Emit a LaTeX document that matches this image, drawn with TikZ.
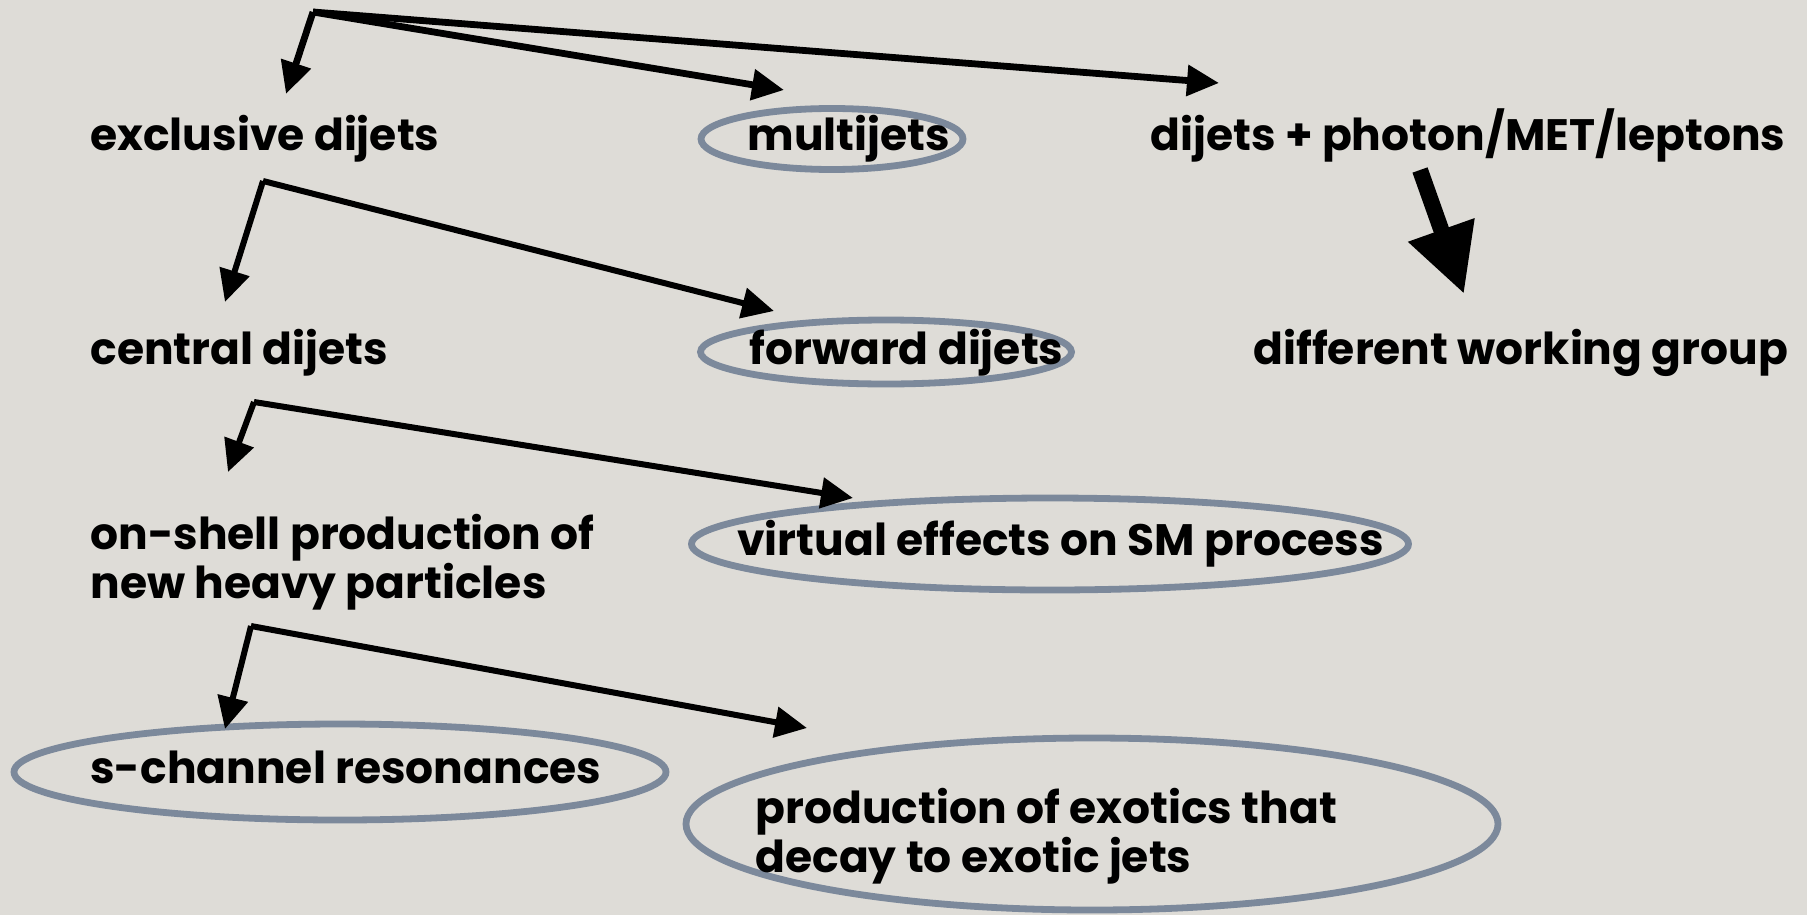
\documentclass[tikz,border=0pt]{standalone}
\usepackage{fontspec}
\setmainfont{Poppins}
\usetikzlibrary{arrows.meta,shapes.geometric}
\definecolor{paper}{RGB}{222,220,215}
\definecolor{ring}{RGB}{124,137,155}
\begin{document}
\begin{tikzpicture}[x=0.5pt,y=-0.5pt,
  txt/.style={font=\fontsize{22}{21.5}\selectfont\bfseries, inner sep=0pt, anchor=base west},
  txtblock/.style={font=\fontsize{22}{21.5}\selectfont\bfseries, inner sep=0pt, anchor=west, align=left},
  oval/.style={draw=ring, line width=3.4pt, ellipse, inner sep=0pt},
  link/.style={line width=3pt, -{Triangle[length=16pt,width=15pt]}},
  toplink/.style={line width=3.4pt, -{Triangle[length=16pt,width=15pt]}},
  bigarrow/.style={line width=8pt, -{Triangle[length=34pt,width=33pt]}},
]
\fill[paper] (0,0) rectangle (1807,915);
\useasboundingbox (0,0) rectangle (1807,915);

% category outlines
\node[oval, minimum width=131pt, minimum height=30.5pt] (om) at (832,139) {};
\node[oval, minimum width=185.5pt, minimum height=32pt] (of) at (886,352) {};
\node[oval, minimum width=358.5pt, minimum height=46pt] (ov) at (1050,544) {};
\node[oval, minimum width=326pt, minimum height=48pt] (os) at (340,772) {};
\node[oval, minimum width=406pt, minimum height=86pt] (op) at (1092,824) {};

% labels
\node[txt] (excl) at (90,150) {exclusive dijets};
\node[txt] (multi) at (747,150) {multijets};
\node[txt] (phot) at (1150,150) {dijets + photon/MET/leptons};
\node[txt] (cent) at (90,364) {central dijets};
\node[txt] (fwd) at (749,364) {forward dijets};
\node[txt] (wg) at (1253,364) {different working group};
\node[txtblock] (onshell) at (90,562) {on-shell production of\\new heavy particles};
\node[txt] (virt) at (737,555) {virtual effects on SM process};
\node[txt] (schan) at (90,783) {s-channel resonances};
\node[txtblock] (prod) at (755,836) {production of exotics that\\decay to exotic jets};

% branch points and arrow ends
\coordinate (root) at (313,12);
\coordinate (exclIn) at (286,94);
\coordinate (multiIn) at (784,90);
\coordinate (photIn) at (1219,83);
\coordinate (b1) at (263,181);
\coordinate (centIn) at (225,302);
\coordinate (fwdIn) at (774,311);
\coordinate (b2) at (254,402);
\coordinate (onIn) at (228,472);
\coordinate (virtIn) at (853,498);
\coordinate (b3) at (251,626);
\coordinate (schanIn) at (225,729);
\coordinate (prodIn) at (807,728);
\coordinate (photOut) at (1420,170);
\coordinate (wgIn) at (1464,294);

\draw[toplink] (root) -- (exclIn);
\draw[toplink] (root) -- (multiIn);
\draw[toplink] (root) -- (photIn);
\draw[link] (b1) -- (centIn);
\draw[link] (b1) -- (fwdIn);
\draw[link] (b2) -- (onIn);
\draw[link] (b2) -- (virtIn);
\draw[link] (b3) -- (schanIn);
\draw[link] (b3) -- (prodIn);
\draw[bigarrow] (photOut) -- (wgIn);
\end{tikzpicture}
\end{document}
